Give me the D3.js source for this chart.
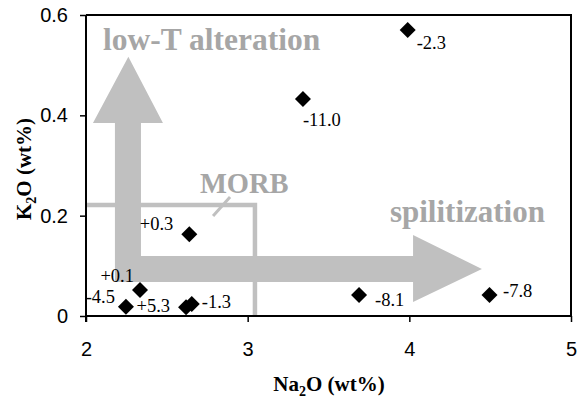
<!DOCTYPE html>
<html><head><meta charset="utf-8">
<script src="https://cdn.jsdelivr.net/npm/d3@7"></script>
<style>
html,body{margin:0;padding:0;background:#fff;}
svg{display:block;}
</style></head>
<body><svg id="c" width="578" height="402"></svg>
<script>
// ---- data ----
const na2o = [3.99, 3.342, 2.639, 2.334, 2.247, 2.619, 2.654, 3.689, 4.496];
const k2o  = [0.570, 0.4325, 0.163, 0.052, 0.0186, 0.0173, 0.024, 0.042, 0.042];
const labels = ["-2.3", "-11.0", "+0.3", "+0.1", "-4.5", "+5.3", "-1.3", "-8.1", "-7.8"];
const xTicks = [2, 3, 4, 5];
const yTicks = [0, 0.2, 0.4, 0.6];
// label placement (layout, px offsets from point; anchor)
const labelLayout = [
  {dx: 9, dy: 19, a: "start"},
  {dx: 0, dy: 27, a: "start"},
  {dx: -16, dy: -4, a: "end"},
  {dx: -6, dy: -8, a: "end"},
  {dx: -11, dy: -4, a: "end"},
  {dx: -16, dy: 5, a: "end"},
  {dx: 10, dy: 4, a: "start"},
  {dx: 16, dy: 11, a: "start"},
  {dx: 13.5, dy: 2, a: "start"}
];
// annotations in data units
const lArrow = [[2.179,0.0678],[2.179,0.3847],[2.043,0.3847],[2.262,0.5168],[2.476,0.3847],[2.340,0.3847],
                [2.340,0.1196],[4.023,0.1196],[4.023,0.1615],[4.449,0.0937],[4.023,0.0279],[4.023,0.0678]];
const morbBox = [[2.0,0.2212],[3.045,0.2212],[3.045,0.0]];
const morbTick = [[2.786,0.1993],[2.891,0.2372]];

const W = 578, H = 402;
const m = {l: 86, r: 7, t: 15, b: 86};
const svg = d3.select("#c");
const x = d3.scaleLinear().domain([2,5]).range([m.l, W - m.r]);
const y = d3.scaleLinear().domain([0,0.6]).range([H - m.b, m.t]);
const line = d3.line().x(d => x(d[0])).y(d => y(d[1]));
const SERIF = "'Liberation Serif','Times New Roman',Times,serif";

// frame top/right
svg.append("path")
  .attr("d", `M${x(2)},${y(0.6)}H${x(5)}V${y(0)}`)
  .attr("fill","none").attr("stroke","#000").attr("stroke-width",2);

// MORB box
svg.append("path").attr("d", line(morbBox)).attr("fill","none")
  .attr("stroke","#c0c0c0").attr("stroke-width",4.5);
svg.append("path").attr("d", line(morbTick)).attr("fill","none")
  .attr("stroke","#c0c0c0").attr("stroke-width",3);

// arrows
svg.append("path").attr("d", line(lArrow) + "Z").attr("fill","#c0c0c0");

// annotation texts
const ann = svg.append("g").attr("font-family", SERIF)
  .attr("font-weight","bold").attr("fill","#a6a6a6");
ann.append("text").attr("x", x(2.105)).attr("y", y(0.530)).attr("font-size", 31.5).text("low-T alteration");
ann.append("text").attr("x", x(3.880)).attr("y", y(0.187)).attr("font-size", 31).text("spilitization");
ann.append("text").attr("x", x(2.705)).attr("y", y(0.245)).attr("font-size", 28.5).text("MORB");

// axes
const xAxis = svg.append("g").attr("transform", `translate(0,${y(0)})`)
  .call(d3.axisBottom(x).tickValues(xTicks).tickFormat(d3.format("d")).tickSize(6).tickPadding(20));
const yAxis = svg.append("g").attr("transform", `translate(${x(2)},0)`)
  .call(d3.axisLeft(y).tickValues(yTicks).tickFormat(d => d === 0 ? "0" : d3.format(".1f")(d)).tickSize(6).tickPadding(12));
[xAxis, yAxis].forEach(g => {
  g.select(".domain").attr("stroke","#000").attr("stroke-width",2);
  g.selectAll(".tick line").attr("stroke","#000").attr("stroke-width",1.5);
  g.selectAll("text").attr("font-family","'Liberation Sans',Arial,sans-serif").attr("font-size",20).attr("fill","#000");
});
xAxis.select(".domain").attr("d", `M${x(2)},0H${x(5)}`);
yAxis.select(".domain").attr("d", `M0,${y(0.6)}V${y(0)+6}`);

// points
const pts = na2o.map((v,i) => ({x: v, y: k2o[i], lab: labels[i], L: labelLayout[i]}));
svg.append("g").selectAll("path").data(pts).join("path")
  .attr("d", d3.symbol(d3.symbolSquare, 128))
  .attr("transform", d => `translate(${x(d.x)},${y(d.y)}) rotate(45)`)
  .attr("fill","#000");
svg.append("g").attr("font-family", SERIF).attr("font-size",18.5)
  .selectAll("text").data(pts).join("text")
  .attr("x", d => x(d.x) + d.L.dx).attr("y", d => y(d.y) + d.L.dy)
  .attr("text-anchor", d => d.L.a).text(d => d.lab);

// axis titles
const xt = svg.append("text").attr("x", 329).attr("y", 391)
  .attr("text-anchor","middle").attr("font-family", SERIF)
  .attr("font-weight","bold").attr("font-size",21);
xt.append("tspan").text("Na");
xt.append("tspan").attr("font-size",14).attr("dy",5).text("2");
xt.append("tspan").attr("dy",-5).text("O (wt%)");
const yt = svg.append("text").attr("transform", `translate(31,169) rotate(-90)`)
  .attr("text-anchor","middle").attr("font-family", SERIF)
  .attr("font-weight","bold").attr("font-size",21);
yt.append("tspan").text("K");
yt.append("tspan").attr("font-size",14).attr("dy",5).text("2");
yt.append("tspan").attr("dy",-5).text("O (wt%)");
</script>
</body></html>
